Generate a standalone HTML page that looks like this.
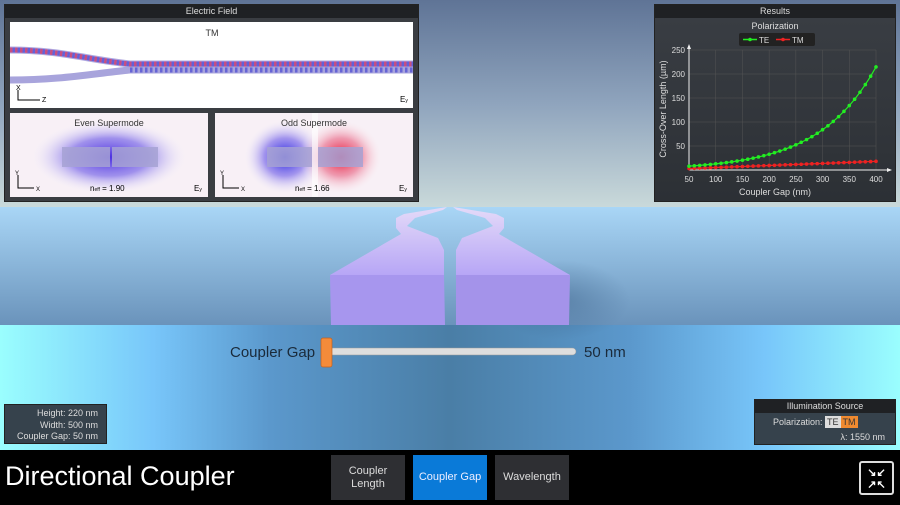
<!DOCTYPE html>
<html><head><meta charset="utf-8"><style>
*{margin:0;padding:0;box-sizing:border-box}
body{width:900px;height:505px;overflow:hidden;position:relative;font-family:"Liberation Sans",sans-serif;background:#000}
.abs{position:absolute}
.sky{left:0;top:0;width:900px;height:207px;background:linear-gradient(#5f7496,#8fa4bd 50%,#c9d9da)}
.plane{left:0;top:207px;width:900px;height:118px;background:linear-gradient(#a9d6f6,#6a93bb)}
.floor{left:0;top:325px;width:900px;height:125px;background:linear-gradient(90deg,#9afefe 0%,#78c6fa 17%,#5b98cc 30%,#4a7ea6 50%,#5b98cc 70%,#78c6fa 85%,#9afefe 100%)}
.bar{left:0;top:450px;width:900px;height:55px;background:#000}
.panel{background:#3a3d42;border:1px solid #222}
.ptitle{background:#1f2124;color:#ddd;font-size:9px;text-align:center;height:13px;line-height:13px}
.btn{top:455px;height:45px;background:#2e2f33;color:#ddd;font-size:11px;display:flex;align-items:center;justify-content:center;text-align:center;line-height:13px}
</style></head><body>
<div class="abs sky"></div><div class="abs plane"></div><div class="abs floor"></div><div class="abs bar"></div>

<svg class="abs" style="left:0;top:0" width="900" height="450">
<defs>
<linearGradient id="wg" x1="0" y1="0" x2="0" y2="1"><stop offset="0" stop-color="#e4daf8"/><stop offset="1" stop-color="#b7a6f6"/></linearGradient>
<radialGradient id="sh" cx="0.5" cy="0.5" r="0.5"><stop offset="0" stop-color="#3a5f86" stop-opacity="0.45"/><stop offset="1" stop-color="#3a5f86" stop-opacity="0"/></radialGradient>
</defs>
<ellipse cx="560" cy="300" rx="70" ry="40" fill="url(#sh)"/>
<polygon points="330,275 401,234 396,228 396,218 404,214 447,207 443,210 415,218 407,226 438,238 444,250 444,275" fill="url(#wg)"/>
<polygon points="330,275 444,275 445,325 331,325" fill="#a796ee"/>
<polygon points="570,275 499,234 504,228 504,218 496,214 453,207 457,210 485,218 493,226 462,238 456,250 456,275" fill="url(#wg)"/>
<polygon points="570,275 456,275 456,325 569,325" fill="#a493ea"/>
<text x="230" y="357" font-size="15" fill="#1a2a3a">Coupler Gap</text>
<rect x="326" y="348" width="250" height="7" rx="3.5" fill="#dedede" stroke="#999" stroke-width="0.5"/>
<rect x="321" y="338" width="11" height="29" rx="2" fill="#f48b3a" stroke="#c06020" stroke-width="0.7"/>
<text x="584" y="357" font-size="15" fill="#1a2a3a">50 nm</text>
</svg>

<div class="abs panel" style="left:4px;top:4px;width:415px;height:198px">
<div class="ptitle">Electric Field</div>
</div>
<svg class="abs" style="left:10px;top:22px" width="403" height="86">
<rect width="403" height="86" fill="#fff"/>
<text x="202" y="14" font-size="9" text-anchor="middle" fill="#333">TM</text>
<path d="M0,28 C50,28 80,38 120,42 L403,42" stroke="#b0a8e0" stroke-width="7" fill="none"/>
<path d="M0,28 C50,28 80,38 120,42 L403,42" stroke="#d03060" stroke-width="5" stroke-dasharray="2.5 2.5" fill="none" opacity="0.75"/>
<path d="M0,28 C50,28 80,38 120,42 L403,42" stroke="#3030d0" stroke-width="5" stroke-dasharray="2.5 2.5" stroke-dashoffset="2.5" fill="none" opacity="0.6"/>
<path d="M0,58 C50,58 80,52 120,48 L403,48" stroke="#a8a4dc" stroke-width="7" fill="none"/>
<path d="M120,48 L403,48" stroke="#3030d0" stroke-width="5" stroke-dasharray="2.5 2.5" fill="none" opacity="0.55"/>
<path d="M8,68 V78 H30" stroke="#000" stroke-width="1" fill="none"/>
<text x="6" y="68" font-size="7">X</text><text x="32" y="80" font-size="7">Z</text>
<text x="390" y="80" font-size="8">E<tspan font-size="5">y</tspan></text>
</svg>
<svg class="abs" style="left:10px;top:113px" width="198" height="84">
<defs><radialGradient id="ev" cx="0.5" cy="0.5" r="0.5"><stop offset="0" stop-color="#4a2ee0"/><stop offset="0.5" stop-color="#7a68e8" stop-opacity="0.7"/><stop offset="1" stop-color="#fff" stop-opacity="0"/></radialGradient>
<radialGradient id="bl" cx="0.5" cy="0.5" r="0.5"><stop offset="0" stop-color="#2020e0"/><stop offset="0.5" stop-color="#6a58e8" stop-opacity="0.6"/><stop offset="1" stop-color="#fff" stop-opacity="0"/></radialGradient>
<radialGradient id="rd" cx="0.5" cy="0.5" r="0.5"><stop offset="0" stop-color="#e81030"/><stop offset="0.5" stop-color="#e86080" stop-opacity="0.6"/><stop offset="1" stop-color="#fff" stop-opacity="0"/></radialGradient></defs>
<rect width="198" height="84" fill="#f8f0f6"/>
<ellipse cx="99" cy="44" rx="80" ry="38" fill="url(#ev)"/>
<rect x="52" y="34" width="48" height="20" fill="#a6a2d4" opacity="0.85"/><rect x="102" y="34" width="46" height="20" fill="#a6a2d4" opacity="0.85"/>
<text x="99" y="13" font-size="9" text-anchor="middle" fill="#333">Even Supermode</text>
<path d="M8,62 V75 H24" stroke="#000" fill="none"/><text x="5" y="62" font-size="6">Y</text><text x="26" y="78" font-size="6">X</text>
<text x="80" y="78" font-size="8">n<tspan font-size="5">eff</tspan> = 1.90</text>
<text x="184" y="78" font-size="8">E<tspan font-size="5">y</tspan></text>
</svg>
<svg class="abs" style="left:215px;top:113px" width="198" height="84">
<rect width="198" height="84" fill="#f8f0f6"/>
<ellipse cx="70" cy="44" rx="42" ry="38" fill="url(#bl)"/>
<ellipse cx="126" cy="44" rx="42" ry="38" fill="url(#rd)"/>
<rect x="97" y="0" width="6" height="84" fill="#fff" opacity="0.6"/>
<rect x="52" y="34" width="45" height="20" fill="#a6a2d4" opacity="0.85"/><rect x="103" y="34" width="45" height="20" fill="#a6a2d4" opacity="0.85"/>
<text x="99" y="13" font-size="9" text-anchor="middle" fill="#333">Odd Supermode</text>
<path d="M8,62 V75 H24" stroke="#000" fill="none"/><text x="5" y="62" font-size="6">Y</text><text x="26" y="78" font-size="6">X</text>
<text x="80" y="78" font-size="8">n<tspan font-size="5">eff</tspan> = 1.66</text>
<text x="184" y="78" font-size="8">E<tspan font-size="5">y</tspan></text>
</svg>

<div class="abs panel" style="left:654px;top:4px;width:242px;height:198px;background:linear-gradient(#3a3e44,#2c3035)">
<div class="ptitle">Results</div>
</div>
<svg id="ch" class="abs" style="left:654px;top:4px" width="242" height="198">
<text x="121" y="25" font-size="9" text-anchor="middle" fill="#ddd">Polarization</text>
<rect x="85" y="29" width="76" height="13" rx="2" fill="#222"/>
<line x1="89" y1="35.5" x2="103" y2="35.5" stroke="#2e2" stroke-width="1.5"/><circle cx="96" cy="35.5" r="1.8" fill="#2e2"/>
<text x="105" y="39" font-size="8" fill="#ddd">TE</text>
<line x1="122" y1="35.5" x2="136" y2="35.5" stroke="#e22" stroke-width="1.5"/><circle cx="129" cy="35.5" r="1.8" fill="#e22"/>
<text x="138" y="39" font-size="8" fill="#ddd">TM</text>
<g id="grid" stroke="#555" stroke-width="0.5"></g>
<line x1="35" y1="166" x2="35" y2="42" stroke="#eee"/><line x1="35" y1="166" x2="236" y2="166" stroke="#eee"/>
<polygon points="35,40 33,45 37,45" fill="#eee"/><polygon points="238,166 233,164 233,168" fill="#eee"/>
<g id="lab" font-size="8" fill="#ddd"></g>
<text x="121" y="191" font-size="9" text-anchor="middle" fill="#ddd">Coupler Gap (nm)</text>
<text transform="translate(12,105) rotate(-90)" font-size="9" text-anchor="middle" fill="#ddd">Cross-Over Length (µm)</text>
<g id="pts"></g>
</svg>
<script>
(function(){var ns="http://www.w3.org/2000/svg";function el(p,t,a,tx){var e=document.createElementNS(ns,t);for(var k in a)e.setAttribute(k,a[k]);if(tx)e.textContent=tx;document.getElementById(p).appendChild(e);}
var x0=35,x1=222,y0=166,y1=46;function X(g){return x0+(g-50)/350*(x1-x0)}function Y(v){return y0-v/250*(y0-y1)}
for(var v=0;v<=250;v+=50){el("grid","line",{x1:x0,x2:x1,y1:Y(v),y2:Y(v)});el("lab","text",{x:x0-4,y:Y(v)+3,"text-anchor":"end"},v);}
for(var g=50;g<=400;g+=50){el("grid","line",{x1:X(g),x2:X(g),y1:y0,y2:y1});el("lab","text",{x:X(g),y:y0+12,"text-anchor":"middle"},g);}
var te="",tm="";for(var g=50;g<=400;g+=10){var a=8*Math.exp(0.0094*(g-50)),b=3+15*(g-50)/350;te+=X(g)+","+Y(a)+" ";tm+=X(g)+","+Y(b)+" ";}
el("pts","polyline",{points:tm,stroke:"#e22",fill:"none","stroke-width":1.2});el("pts","polyline",{points:te,stroke:"#2e2",fill:"none","stroke-width":1.2});
for(var g=50;g<=400;g+=10){var a=8*Math.exp(0.0094*(g-50)),b=3+15*(g-50)/350;el("pts","circle",{cx:X(g),cy:Y(b),r:1.8,fill:"#e22"});el("pts","circle",{cx:X(g),cy:Y(a),r:1.8,fill:"#2e2"});}
})();
</script>

<div class="abs panel" style="left:4px;top:404px;width:103px;height:40px;color:#ddd;font-size:9px;text-align:right;padding:3px 8px 0 0;line-height:11.5px;background:#36424c">Height: 220 nm<br>Width: 500 nm<br>Coupler Gap: 50 nm</div>
<div class="abs panel" style="left:754px;top:399px;width:142px;height:46px;background:#36424c;color:#ddd;font-size:9px">
<div class="ptitle">Illumination Source</div>
<div style="position:absolute;left:18px;top:17px">Polarization: <span style="background:#ddd;color:#333;padding:1px 2px">TE</span><span style="background:#f08a30;color:#333;padding:1px 2px">TM</span></div>
<div style="position:absolute;right:10px;top:32px">λ: 1550 nm</div>
</div>

<div class="abs" style="left:5px;top:461px;color:#fff;font-size:27px">Directional Coupler</div>
<div class="abs btn" style="left:331px;width:74px">Coupler<br>Length</div>
<div class="abs btn" style="left:413px;width:74px;background:#0a7ad8;color:#eef">Coupler Gap</div>
<div class="abs btn" style="left:495px;width:74px">Wavelength</div>
<div class="abs" style="left:859px;top:461px;width:35px;height:34px;border:2px solid #ddd;border-radius:3px;color:#fff;font-size:11px;line-height:12px;text-align:center;padding-top:4px;font-weight:bold">↘↙<br>↗↖</div>
</body></html>
